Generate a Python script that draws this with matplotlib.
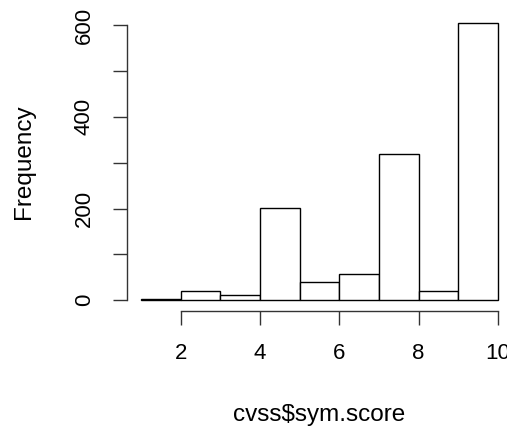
import numpy as np
from matplotlib import pyplot as plt

plt.rcParams['font.family'] = ['Liberation Sans', 'DejaVu Sans']

# histogram of cvss$sym.score, bins of width 1
breaks = np.arange(1, 11)
counts = [3, 20, 12, 202, 40, 57, 320, 20, 605]
xticks = [2, 4, 6, 8, 10]
yticks = [0, 100, 200, 300, 400, 500, 600]
ylabels = ['0', '', '200', '', '400', '', '600']

fig = plt.figure(figsize=(5.07, 4.28), dpi=100)
ax = fig.add_axes([0.25, 0.273, 0.76, 0.699])

ax.bar(breaks[:-1], counts, width=np.diff(breaks), align='edge',
       facecolor='white', edgecolor='black', linewidth=1.0)

ax.set_xlim(0.64, 10.36)
ax.set_ylim(-0.04 * max(counts), 1.04 * max(counts))

for s in ['top', 'right']:
    ax.spines[s].set_visible(False)
ax.spines['left'].set_bounds(0, 600)
ax.spines['bottom'].set_bounds(2, 10)
for s in ['left', 'bottom']:
    ax.spines[s].set_linewidth(1.0)
    ax.spines[s].set_color('#333333')

ax.set_xticks(xticks)
ax.set_yticks(yticks)
ax.set_yticklabels(ylabels, rotation=90, va='center')
ax.tick_params(axis='both', length=10, width=1.0, color='#333333',
               labelsize=16, pad=13)

ax.set_xlabel('cvss$sym.score', fontsize=17.5)
ax.set_ylabel('Frequency', fontsize=17.5)
ax.xaxis.set_label_coords(0.5, -0.31)
ax.yaxis.set_label_coords(-0.238, 0.5)

fig.savefig('out.png', dpi=100)
